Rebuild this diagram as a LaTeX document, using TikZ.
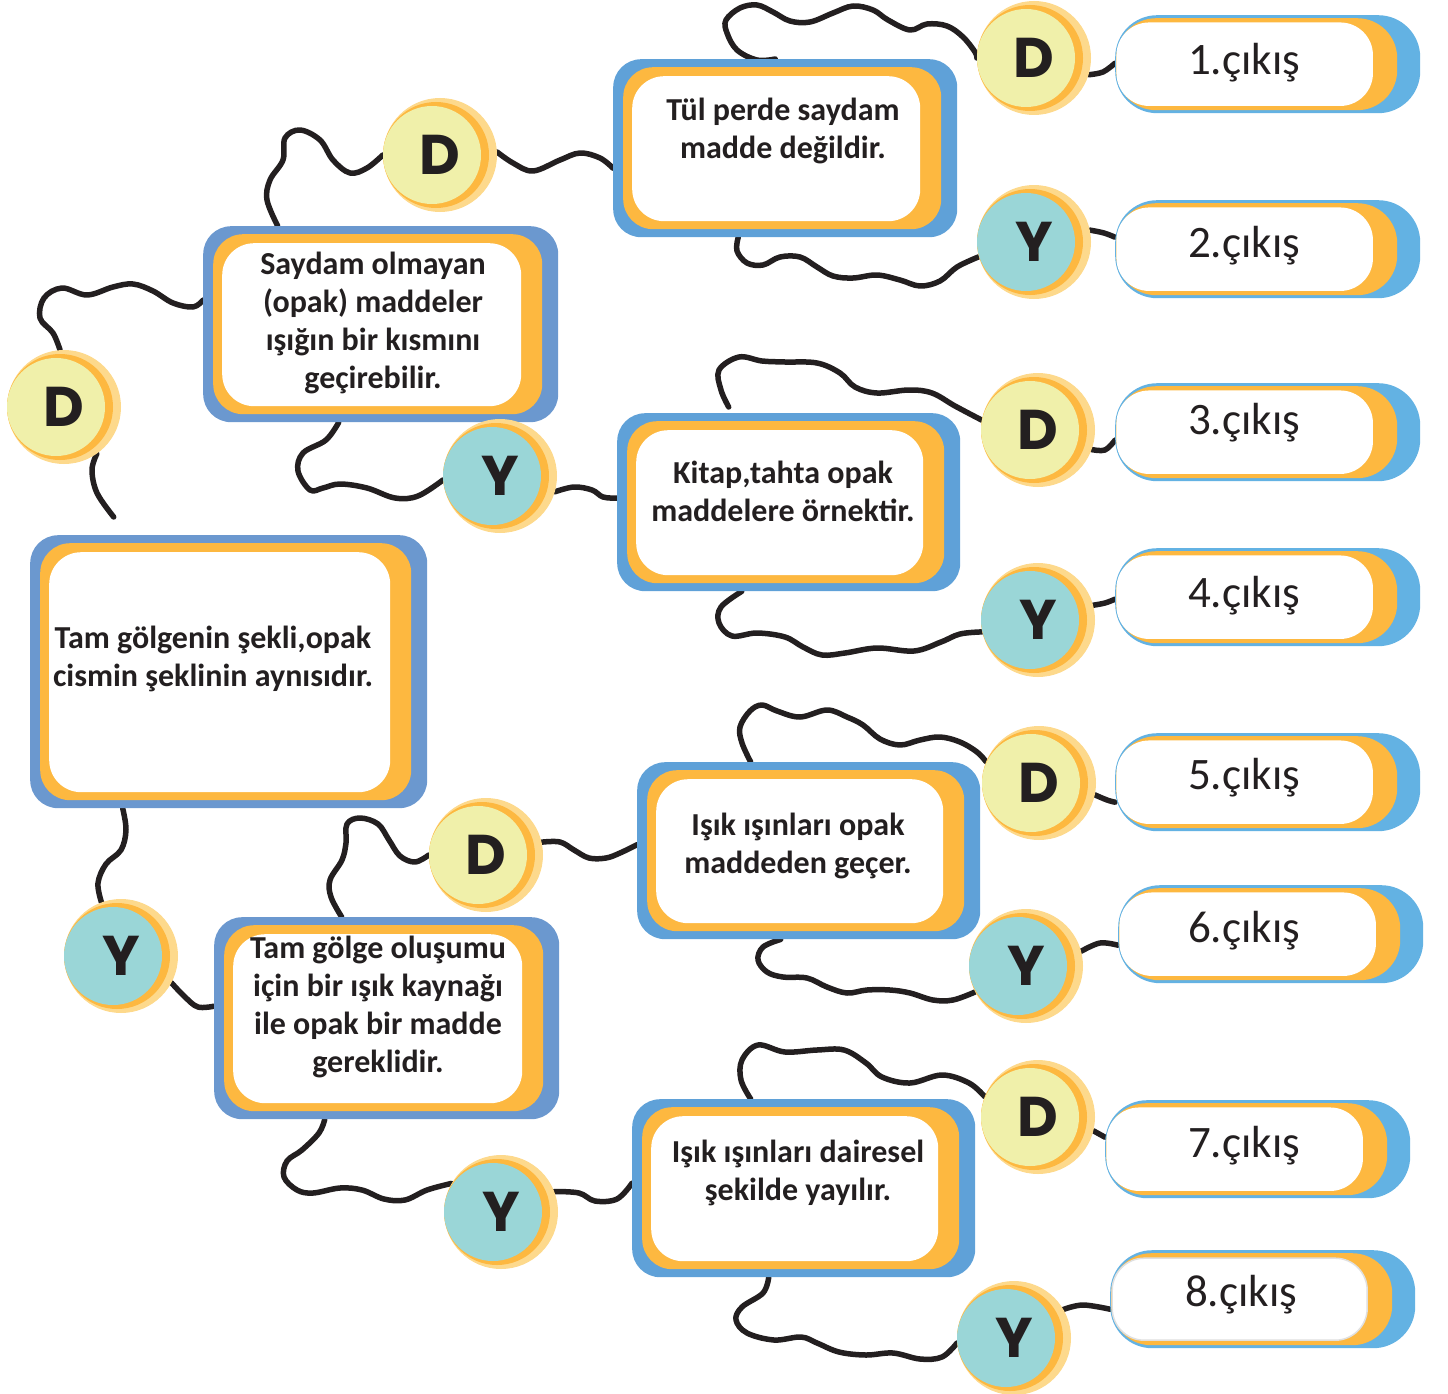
\documentclass[tikz,border=0pt]{standalone}
\usepackage{fontspec}
\setmainfont{Carlito}
\newfontfamily\letterfont{Poppins}
\usetikzlibrary{backgrounds}
\definecolor{sblue}{HTML}{6B98CF}
\definecolor{tblue}{HTML}{5FA1D8}
\definecolor{xblue}{HTML}{63B2E3}
\definecolor{orng}{HTML}{FDB840}
\definecolor{pale}{HTML}{FDD98C}
\definecolor{yell}{HTML}{F0F0AA}
\definecolor{teal}{HTML}{9AD6D7}
\definecolor{ink}{HTML}{231F20}

\begin{document}
\begin{tikzpicture}[
  x=1pt, y=-1pt,
  stbox/.style={rounded corners=28pt, fill=#1, inner sep=0pt, anchor=north west,
    path picture={
      \fill[orng, rounded corners=30pt] ([shift={(10,8)}]path picture bounding box.north west) rectangle ([shift={(-16,-8)}]path picture bounding box.south east);
      \fill[white, rounded corners=32pt] ([shift={(19,17)}]path picture bounding box.north west) rectangle ([shift={(-37,-16)}]path picture bounding box.south east);
    }},
  exbox/.style={rounded corners=42pt, fill=xblue, inner sep=0pt, anchor=north west,
    minimum width=305pt, minimum height=98pt,
    path picture={
      \fill[orng, rounded corners=40pt] ([shift={(1,3)}]path picture bounding box.north west) rectangle ([shift={(-23,-3)}]path picture bounding box.south east);
      \filldraw[white, draw=#1, line width=1.5pt, rounded corners=32pt] ([shift={(2,8)}]path picture bounding box.north west) rectangle ([shift={(-48,-8)}]path picture bounding box.south east);
    }},
  exbox/.default=white,
  ball/.style={circle, minimum size=114pt, inner sep=0pt, fill=pale, text=ink,
    font=\letterfont\bfseries\fontsize{56}{56}\selectfont,
    path picture={
      \fill[orng] ([xshift=-4pt]path picture bounding box.center) circle (53pt);
      \fill[#1] ([xshift=-8pt]path picture bounding box.center) circle (49pt);
    }},
  dball/.style={ball=yell},
  yball/.style={ball=teal},
  sttext/.style={font=\bfseries\fontsize{32}{38}\selectfont, text=ink, align=center, inner sep=0pt},
  extext/.style={font=\fontsize{45}{50}\selectfont, text=ink, inner sep=0pt},
  wire/.style={draw=ink, line width=5.5pt, line cap=round, line join=round}
]
\useasboundingbox (0,0) rectangle (1448,1394);

% statement boxes
\node[stbox=sblue, minimum width=397pt, minimum height=273pt] (m0) at (30,535) {};
\node[stbox=sblue, minimum width=355pt, minimum height=196pt] (s1) at (203,226) {};
\node[stbox=sblue, minimum width=345pt, minimum height=202pt] (s2) at (214,917) {};
\node[stbox=tblue, minimum width=344pt, minimum height=178pt] (t1) at (613,59) {};
\node[stbox=tblue, minimum width=343pt, minimum height=178pt] (t2) at (617,413) {};
\node[stbox=tblue, minimum width=343pt, minimum height=177pt] (t3) at (637,762) {};
\node[stbox=tblue, minimum width=343pt, minimum height=178pt] (t4) at (632,1099) {};

\node[sttext] (m0l) at (213,659) {Tam gölgenin şekli,opak\\cismin şeklinin aynısıdır.};
\node[sttext] (s1l) at (373,323) {Saydam olmayan\\(opak) maddeler\\ışığın bir kısmını\\geçirebilir.};
\node[sttext] (s2l) at (378,1007) {Tam gölge oluşumu\\için bir ışık kaynağı\\ile opak bir madde\\gereklidir.};
\node[sttext] (t1l) at (783,131) {Tül perde saydam\\madde değildir.};
\node[sttext] (t2l) at (783,491) {Kitap,tahta opak\\maddelere örnektir.};
\node[sttext] (t3l) at (798,846) {Işık ışınları opak\\maddeden geçer.};
\node[sttext] (t4l) at (798,1173) {Işık ışınları dairesel\\şekilde yayılır.};

% exits
\node[exbox] (out1) at (1115,15) {};
\node[exbox] (out2) at (1115,200) {};
\node[exbox] (out3) at (1115,383) {};
\node[exbox] (out4) at (1115,548) {};
\node[exbox] (out5) at (1115,733) {};
\node[exbox] (out6) at (1118,885) {};
\node[exbox] (out7) at (1105,1100) {};
\node[exbox=black!12] (out8) at (1110,1250) {};

\node[extext] (out1l) at (1244,63) {1.çıkış};
\node[extext] (out2l) at (1244,246) {2.çıkış};
\node[extext] (out3l) at (1244,423) {3.çıkış};
\node[extext] (out4l) at (1244,596) {4.çıkış};
\node[extext] (out5l) at (1244,778) {5.çıkış};
\node[extext] (out6l) at (1244,931) {6.çıkış};
\node[extext] (out7l) at (1244,1146) {7.çıkış};
\node[extext] (out8l) at (1241,1295) {8.çıkış};

% D / Y answers
\node[dball] (d0) at (64,407) {D};
\node[yball] (y0) at (121,956) {Y};
\node[dball] (d1) at (440,155) {D};
\node[yball] (y1) at (500,476) {Y};
\node[dball] (d2) at (486,855) {D};
\node[yball] (y2) at (501,1212) {Y};
\node[dball] (dt1) at (1034,58) {D};
\node[yball] (yt1) at (1034,242) {Y};
\node[dball] (dt2) at (1038,430) {D};
\node[yball] (yt2) at (1038,620) {Y};
\node[dball] (dt3) at (1039,783) {D};
\node[yball] (yt3) at (1026,966) {Y};
\node[dball] (dt4) at (1038,1117) {D};
\node[yball] (yt4) at (1014,1338) {Y};

% wavy connectors
\begin{scope}[on background layer]
\draw[wire] plot[smooth, tension=0.6] coordinates {(d0.-55) (92,470) (97,493) ([xshift=-115pt,yshift=18pt]m0.north)};
\draw[wire] plot[smooth, tension=0.6] coordinates {(d0.94) (53,333) (40,318) (44,298) (62,288) (87,295) (113,287) (133,284) (153,291) (173,303) (193,307) ([yshift=24pt]s1.west)};
\draw[wire] plot[smooth, tension=0.6] coordinates {([xshift=-103pt]s1.north) (267,200) (270,180) (283,160) (285,138) (300,130) (320,140) (333,160) (350,173) (367,168) (d1.180)};
\draw[wire] plot[smooth, tension=0.6] coordinates {(d1.3) (513,163) (533,171) (560,160) (580,153) (600,158) ([yshift=-20pt]t1.west)};
\draw[wire] plot[smooth, tension=0.6] coordinates {([xshift=-10pt]t1.north) (757,60) (737,50) (727,33) (726,20) (740,8) (757,5) (773,12) (790,21) (810,22) (833,13) (853,6) (873,10) (888,20) (910,30) (927,24) (947,26) (963,37) (975,52) (dt1.180)};
\draw[wire] plot[smooth, tension=0.6] coordinates {(dt1.-17) (1103,72) ([yshift=1pt]out1.west)};
\draw[wire] plot[smooth, tension=0.6] coordinates {([xshift=-47pt]t1.south) (737,251) (747,263) (763,265) (780,257) (800,257) (817,267) (833,276) (853,278) (877,275) (900,280) (920,286) (940,281) (957,267) (yt1.195)};
\draw[wire] plot[smooth, tension=0.6] coordinates {(yt1.12) (1104,233) ([yshift=12pt]out2.west)};
\draw[wire] plot[smooth, tension=0.6] coordinates {([xshift=-42pt]s1.south) (326,440) (303,453) (298,471) (310,490) (323,488) (340,484) (367,488) (395,498) (418,496) (y1.184)};
\draw[wire] plot[smooth, tension=0.6] coordinates {(y1.-16) (574,487) (592,490) (603,497) ([yshift=4pt]t2.west)};
\draw[wire] plot[smooth, tension=0.6] coordinates {([xshift=-60pt,yshift=6pt]t2.north) (721,390) (719,370) (739,357) (762,361) (785,362) (817,363) (840,373) (855,387) (877,393) (909,390) (932,393) (955,406) (dt2.170)};
\draw[wire] plot[smooth, tension=0.6] coordinates {(dt2.-20) (1105,450) ([yshift=-8pt]out3.west)};
\draw[wire] plot[smooth, tension=0.6] coordinates {([xshift=-47pt]t2.south) (721,607) (719,623) (732,636) (757,633) (785,637) (803,647) (822,655) (845,653) (877,648) (914,651) (941,642) (960,634) (yt2.192)};
\draw[wire] plot[smooth, tension=0.6] coordinates {(yt2.15) (1105,603) ([yshift=-2pt]out4.west)};
\draw[wire] plot[smooth, tension=0.6] coordinates {([xshift=-106pt]m0.south) (126,830) (121,850) (106,864) (98,883) (y0.110)};
\draw[wire] plot[smooth, tension=0.6] coordinates {(y0.-28) (185,997) (198,1007) ([yshift=12pt]s2.west)};
\draw[wire] plot[smooth, tension=0.6] coordinates {([xshift=-45pt]s2.north) (331,897) (330,880) (342,860) (346,843) (347,824) (360,818) (378,824) (389,840) (400,856) (415,862) (d2.180)};
\draw[wire] plot[smooth, tension=0.6] coordinates {(d2.13) (560,842) (574,850) (589,858) (606,858) (620,853) ([yshift=6pt]t3.west)};
\draw[wire] plot[smooth, tension=0.6] coordinates {([xshift=-58pt]t3.north) (742,743) (740,727) (750,711) (762,705) (777,711) (800,717) (827,710) (847,717) (863,725) (880,739) (900,745) (920,740) (940,737) (960,742) (977,752) (dt3.158)};
\draw[wire] plot[smooth, tension=0.6] coordinates {(dt3.-12) (1107,800) ([yshift=-20pt]out5.west)};
\draw[wire] plot[smooth, tension=0.6] coordinates {([xshift=-28pt]t3.south) (763,947) (758,960) (767,972) (783,977) (807,978) (827,987) (847,993) (867,990) (890,990) (910,993) (933,1000) (953,1000) (yt3.207)};
\draw[wire] plot[smooth, tension=0.6] coordinates {(yt3.15) (1100,943) ([yshift=-11pt]out6.west)};
\draw[wire] plot[smooth, tension=0.6] coordinates {([xshift=-62pt]s2.south) (319,1133) (302,1150) (287,1161) (284,1177) (297,1190) (313,1193) (340,1188) (362,1190) (384,1199) (405,1200) (427,1190) (y2.150)};
\draw[wire] plot[smooth, tension=0.6] coordinates {(y2.21) (579,1193) (595,1201) (617,1199) ([yshift=5pt]t4.west)};
\draw[wire] plot[smooth, tension=0.6] coordinates {([xshift=-53pt]t4.north) (741,1080) (742,1060) (758,1045) (785,1052) (817,1050) (844,1050) (866,1063) (882,1077) (910,1083) (942,1075) (969,1083) (dt4.159)};
\draw[wire] plot[smooth, tension=0.6] coordinates {(dt4.-14) ([yshift=12pt]out7.west)};
\draw[wire] plot[smooth, tension=0.6] coordinates {([xshift=-35pt]t4.south) (763,1293) (742,1307) (736,1320) (747,1333) (774,1340) (801,1337) (817,1343) (839,1352) (866,1355) (893,1353) (920,1359) (942,1357) (yt4.185)};
\draw[wire] plot[smooth, tension=0.6] coordinates {(yt4.30) (1083,1305) ([yshift=-10pt]out8.west)};
\end{scope}
\end{tikzpicture}
\end{document}
